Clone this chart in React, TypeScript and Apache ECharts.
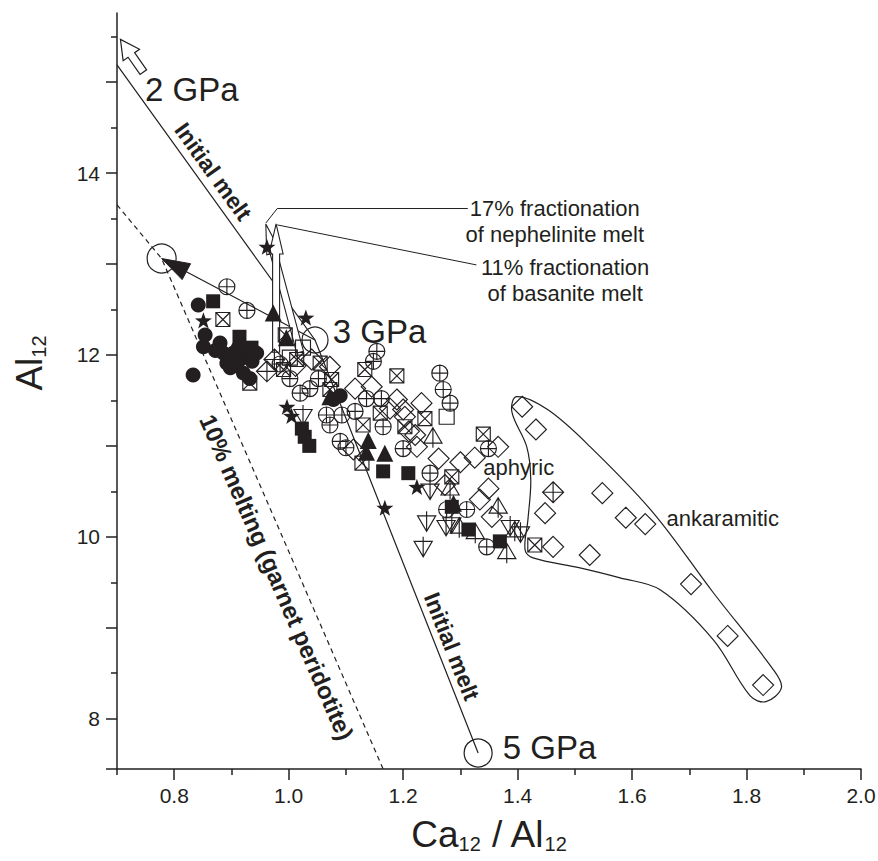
import React, { useEffect, useRef } from 'react';
import * as echarts from 'echarts';

type P = [number, number];

const FONT = '"Liberation Sans", Arial, Helvetica, sans-serif';
const INK = '#231f20';

// Axis ranges, ticks and labels
const X_MIN = 0.7;
const X_MAX = 2.0;
const Y_MIN = 7.447;
const Y_MAX = 15.76;
const xMajorTicks = [0.8, 1.0, 1.2, 1.4, 1.6, 1.8, 2.0];
const xMinorTicks = [0.7, 0.9, 1.1, 1.3, 1.5, 1.7, 1.9];
const yMajorTicks = [8, 9, 10, 11, 12, 13, 14, 15];
const yMinorTicks = [8.5, 9.5, 10.5, 11.5, 12.5, 13.5, 14.5, 15.5];
const yTickLabels = [8, 10, 12, 14];

// Sample groups: [Ca12/Al12, Al12]
const filledCircles: P[] = [
  [0.842, 12.55], [0.854, 12.22], [0.851, 12.09], [0.833, 11.78], [0.88, 12.13],
  [0.886, 12.02], [0.892, 11.91], [0.903, 12.02], [0.915, 11.95], [0.927, 12.05],
  [0.921, 11.8], [0.932, 11.74], [0.898, 11.86], [0.912, 12.08], [0.908, 11.88],
  [0.936, 11.93], [0.944, 12.02], [0.872, 12.05], [1.078, 11.51], [1.09, 11.55],
];
const filledSquares: P[] = [
  [0.868, 12.59], [0.914, 12.2], [0.935, 12.08], [1.023, 11.19], [1.028, 11.1],
  [1.036, 11.0], [1.165, 10.72], [1.209, 10.7], [1.285, 10.33], [1.314, 10.08],
  [1.369, 9.95],
];
const filledStars: P[] = [
  [0.962, 13.19], [0.851, 12.38], [1.03, 12.41], [0.997, 11.43], [1.005, 11.33],
  [1.224, 10.55], [1.168, 10.32],
];
const filledTriangles: P[] = [
  [0.973, 12.46], [0.996, 12.19], [1.072, 11.54], [1.139, 11.06], [1.136, 10.93],
  [1.168, 10.92], [1.288, 10.37],
];
const circleCross: P[] = [
  [0.892, 12.75], [0.927, 12.49], [0.985, 11.9], [1.002, 11.74], [1.02, 11.58],
  [1.037, 11.63], [1.052, 11.74], [1.066, 11.34], [1.093, 11.34], [1.116, 11.38],
  [1.072, 11.23], [1.09, 11.05], [1.1, 10.98], [1.136, 11.52], [1.162, 11.52],
  [1.154, 12.04], [1.148, 11.93], [1.264, 11.8], [1.27, 11.62], [1.282, 11.47],
  [1.165, 11.21], [1.2, 10.97], [1.247, 10.7], [1.349, 10.97], [1.276, 10.3],
  [1.311, 10.3], [1.346, 9.89],
];
const squareCross: P[] = [
  [0.885, 12.39], [0.932, 11.69], [0.994, 12.22], [0.991, 11.84], [1.014, 11.95],
  [1.055, 11.91], [1.075, 11.73], [1.072, 11.62], [1.133, 11.84], [1.189, 11.77],
  [1.16, 11.36], [1.238, 11.3], [1.203, 11.21], [1.13, 11.23], [1.128, 10.81],
  [1.34, 11.13], [1.285, 10.66], [1.43, 9.91],
];
const openSquares: P[] = [[1.002, 11.97], [1.025, 12.08], [1.276, 11.32]];
const openDiamonds: P[] = [
  [1.012, 11.88], [1.04, 11.95], [1.072, 11.87], [1.116, 11.63], [1.145, 11.65],
  [1.189, 11.51], [1.232, 11.47], [1.177, 11.41], [1.2, 11.4], [1.203, 11.32],
  [1.221, 11.12], [1.21, 11.16], [1.113, 10.96], [1.224, 10.99], [1.262, 10.86],
  [1.3, 10.82], [1.325, 10.87], [1.366, 10.99], [1.273, 10.57], [1.334, 10.41],
  [1.349, 10.53], [1.355, 10.22],
  [1.408, 11.43], [1.432, 11.18], [1.448, 10.26], [1.548, 10.48], [1.589, 10.21],
  [1.623, 10.14], [1.462, 9.89], [1.526, 9.8], [1.703, 9.48], [1.767, 8.91],
  [1.829, 8.37],
];
const diamondCross: P[] = [[0.962, 11.82], [0.975, 11.95], [1.462, 10.49]];
const triangleUpBar: P[] = [
  [1.252, 11.09], [1.282, 10.52], [1.366, 10.32], [1.326, 10.04], [1.381, 9.82],
  [1.395, 10.06], [1.298, 10.1],
];
const triangleDownBar: P[] = [
  [1.025, 11.34], [1.247, 10.52], [1.241, 10.17], [1.285, 10.15], [1.235, 9.89],
  [1.275, 10.12], [1.387, 10.12], [1.405, 10.05],
];

// Melt trends and reference points
const initialMeltTrend: P[] = [[0.7, 15.19], [1.046, 12.165], [1.331, 7.623]];
const meltingTrend: P[] = [[0.7, 13.65], [0.778, 13.06], [1.165, 7.447]];
const gpa3: P = [1.046, 12.165];
const gpa5: P = [1.331, 7.623];
const meltOrigin: P = [0.778, 13.06];
const gpa2ArrowTail: P = [0.746, 15.11];
const gpa2ArrowTip: P = [0.706, 15.47];
const nephArrowTail: P = [1.02, 12.03];
const nephArrowTip: P = [0.96, 13.44];
const basArrowTail: P = [0.978, 12.03];
const basArrowTip: P = [0.978, 13.44];
const nephLeader: P[] = [[0.96, 13.45], [0.98, 13.61], [1.313, 13.61]];
const basLeader: P[] = [[0.98, 13.43], [1.328, 12.99]];
const ankaramiticOutline: P[] = [
  [1.398, 11.542], [1.453, 11.396], [1.527, 10.989], [1.637, 10.264], [1.742, 9.385],
  [1.847, 8.538], [1.861, 8.341], [1.834, 8.187], [1.806, 8.253], [1.742, 8.868],
  [1.649, 9.418], [1.579, 9.549], [1.509, 9.659], [1.427, 9.769], [1.413, 9.857],
  [1.418, 10.187], [1.423, 10.626], [1.416, 10.989], [1.39, 11.374],
];

function starPath(): string {
  const pts: string[] = [];
  for (let i = 0; i < 10; i++) {
    const r = i % 2 === 0 ? 10 : 4;
    const a = -Math.PI / 2 + (i * Math.PI) / 5;
    pts.push(`${(10 + r * Math.cos(a)).toFixed(2)},${(10 + r * Math.sin(a)).toFixed(2)}`);
  }
  return 'path://M' + pts.join(' L') + ' Z';
}

const SYM_STAR = starPath();
const SYM_CIRCLE_CROSS = 'path://M10,0 A10,10 0 1,1 10,20 A10,10 0 1,1 10,0 Z M0,10 L20,10 M10,0 L10,20';
const SYM_SQUARE_CROSS = 'path://M0,0 L20,0 L20,20 L0,20 Z M0,0 L20,20 M20,0 L0,20';
const SYM_DIAMOND_CROSS = 'path://M10,0 L20,10 L10,20 L0,10 Z M0,10 L20,10 M10,0 L10,20';
const SYM_TRI_UP_BAR = 'path://M10,0 L20,17 L0,17 Z M10,0 L10,22';
const SYM_TRI_DOWN_BAR = 'path://M0,5 L20,5 L10,22 Z M10,0 L10,22';

function scatter(name: string, data: P[], symbol: string, size: number | number[], filled: boolean, z = 3) {
  return {
    type: 'scatter',
    name,
    data,
    symbol,
    symbolSize: size,
    symbolKeepAspect: true,
    xAxisIndex: 0,
    yAxisIndex: 0,
    z,
    silent: true,
    itemStyle: filled
      ? { color: INK, borderWidth: 0, opacity: 1 }
      : { color: 'rgba(255,255,255,0)', borderColor: INK, borderWidth: 1.15, opacity: 1 },
  };
}

function arrowOutline(tail: number[], tip: number[], headLen: number, headW: number, shaftW: number) {
  const dx = tip[0] - tail[0];
  const dy = tip[1] - tail[1];
  const L = Math.hypot(dx, dy) || 1;
  const ux = dx / L;
  const uy = dy / L;
  const nx = -uy;
  const ny = ux;
  const bx = tip[0] - ux * headLen;
  const by = tip[1] - uy * headLen;
  const hs = shaftW / 2;
  const hh = headW / 2;
  return [
    [tail[0] + nx * hs, tail[1] + ny * hs],
    [bx + nx * hs, by + ny * hs],
    [bx + nx * hh, by + ny * hh],
    [tip[0], tip[1]],
    [bx - nx * hh, by - ny * hh],
    [bx - nx * hs, by - ny * hs],
    [tail[0] - nx * hs, tail[1] - ny * hs],
  ];
}

function renderAnnotations(_params: any, api: any) {
  const c = (p: number[]) => api.coord(p) as number[];
  const stroke = { stroke: INK, lineWidth: 1.2, fill: 'none' };
  const poly = (pts: number[][], extra: any = {}) => ({
    type: 'polyline',
    shape: { points: pts.map(c) },
    style: { ...stroke, ...extra },
  });
  const ring = (p: number[], r: number) => {
    const [cx, cy] = c(p);
    return { type: 'circle', shape: { cx, cy, r }, style: { ...stroke } };
  };
  const angle = (a: number[], b: number[]) => {
    const pa = c(a);
    const pb = c(b);
    return -Math.atan2(pb[1] - pa[1], pb[0] - pa[0]);
  };
  const label = (p: number[], text: string, size: number, opts: any = {}) => {
    const [x, y] = c(p);
    return {
      type: 'text',
      x,
      y,
      rotation: opts.rotation || 0,
      style: {
        text,
        fill: INK,
        fontSize: size,
        fontFamily: FONT,
        fontWeight: opts.bold ? 'bold' : 'normal',
        align: opts.align || 'center',
        verticalAlign: 'middle',
      },
    };
  };

  // arrow from 3 GPa back to the melting origin, filled head at the origin
  const from = c(gpa3);
  const to = c(meltOrigin);
  const dx = to[0] - from[0];
  const dy = to[1] - from[1];
  const L = Math.hypot(dx, dy);
  const ux = dx / L;
  const uy = dy / L;
  const headBase = [to[0] - ux * 28, to[1] - uy * 28];
  const head = [
    [to[0], to[1]],
    [headBase[0] - uy * 9, headBase[1] + ux * 9],
    [headBase[0] + uy * 9, headBase[1] - ux * 9],
  ];

  const origin = c([X_MIN, Y_MIN]);

  const children: any[] = [
    // x-axis stub left of the y axis
    { type: 'line', shape: { x1: origin[0] - 11, y1: origin[1], x2: origin[0], y2: origin[1] }, style: { stroke: INK, lineWidth: 1.5 } },
    poly(meltingTrend, { lineDash: [5, 4] }),
    poly(initialMeltTrend),
    { type: 'polyline', shape: { points: [from, headBase] }, style: { ...stroke } },
    { type: 'polygon', shape: { points: head }, style: { fill: INK, stroke: INK, lineWidth: 1 } },
    ring(meltOrigin, 14.5),
    ring(gpa3, 13),
    ring(gpa5, 14),
    {
      type: 'polygon',
      shape: { points: arrowOutline(c(gpa2ArrowTail), c(gpa2ArrowTip), 19, 20, 8) },
      style: { fill: '#fff', stroke: INK, lineWidth: 1.2 },
    },
    {
      type: 'polygon',
      shape: { points: arrowOutline(c(nephArrowTail), c(nephArrowTip), 30, 14, 7) },
      style: { fill: '#fff', stroke: INK, lineWidth: 1.1 },
    },
    {
      type: 'polygon',
      shape: { points: arrowOutline(c(basArrowTail), c(basArrowTip), 30, 14, 7) },
      style: { fill: '#fff', stroke: INK, lineWidth: 1.1 },
    },
    poly(nephLeader, { lineWidth: 1 }),
    poly(basLeader, { lineWidth: 1 }),
    {
      type: 'polygon',
      shape: { points: ankaramiticOutline.map(c), smooth: 0.35 },
      style: { ...stroke },
    },
    label([0.749, 14.92], '2 GPa', 33, { align: 'left' }),
    label([1.077, 12.258], '3 GPa', 33, { align: 'left' }),
    label([1.374, 7.681], '5 GPa', 33, { align: 'left' }),
    label([0.868, 14.016], 'Initial melt', 23, { bold: true, rotation: angle(initialMeltTrend[0], initialMeltTrend[1]) }),
    label([1.285, 8.795], 'Initial melt', 23, { bold: true, rotation: angle(initialMeltTrend[1], initialMeltTrend[2]) }),
    label([0.979, 9.555], '10% melting (garnet peridotite)', 24, { bold: true, rotation: angle(meltingTrend[1], meltingTrend[2]) }),
    label([1.465, 13.615], '17% fractionation', 22),
    label([1.465, 13.319], 'of nephelinite melt', 22),
    label([1.483, 12.967], '11% fractionation', 22),
    label([1.483, 12.681], 'of basanite melt', 22),
    label([1.34, 10.758], 'aphyric', 22, { align: 'left' }),
    label([1.66, 10.205], 'ankaramitic', 22, { align: 'left' }),
  ];
  return { type: 'group', children };
}

function buildOption(): any {
  const tickLine = { color: INK, width: 1.5 };
  const labelStyle = { fontSize: 21, color: INK, fontFamily: FONT };
  const nameRich = {
    t: { fontSize: 37, fontFamily: FONT, color: INK, lineHeight: 40 },
    s: { fontSize: 20, fontFamily: FONT, color: INK, verticalAlign: 'bottom' },
  };
  return {
    animation: false,
    backgroundColor: '#fff',
    grid: { left: 117, right: 17, top: 13, bottom: 92, containLabel: false, outerBoundsMode: 'none' },
    xAxis: [
      {
        type: 'value',
        position: 'bottom',
        min: X_MIN,
        max: X_MAX,
        axisLine: { show: true, onZero: false, lineStyle: tickLine },
        axisTick: { show: true, inside: false, length: 11, customValues: xMajorTicks, lineStyle: tickLine },
        axisLabel: { ...labelStyle, customValues: xMajorTicks, margin: 16, formatter: (v: number) => v.toFixed(1) },
        splitLine: { show: false },
        name: '{t|Ca}{s|12}{t| / Al}{s|12}',
        nameLocation: 'middle',
        nameGap: 45,
        nameTextStyle: { rich: nameRich },
      },
      {
        type: 'value',
        position: 'bottom',
        min: X_MIN,
        max: X_MAX,
        axisLine: { show: false, onZero: false },
        axisTick: { show: true, inside: false, length: 6, customValues: xMinorTicks, lineStyle: tickLine },
        axisLabel: { show: false },
        splitLine: { show: false },
      },
    ],
    yAxis: [
      {
        type: 'value',
        position: 'left',
        min: Y_MIN,
        max: Y_MAX,
        axisLine: { show: true, onZero: false, lineStyle: tickLine },
        axisTick: { show: true, inside: false, length: 11, customValues: yMajorTicks, lineStyle: tickLine },
        axisLabel: { ...labelStyle, customValues: yTickLabels, margin: 17, formatter: (v: number) => String(v) },
        splitLine: { show: false },
        name: '{t|Al}{s|12}',
        nameLocation: 'middle',
        nameRotate: 90,
        nameGap: 68,
        nameTextStyle: { rich: nameRich, padding: [0, 0, 0, 56] },
      },
      {
        type: 'value',
        position: 'left',
        min: Y_MIN,
        max: Y_MAX,
        axisLine: { show: false, onZero: false },
        axisTick: { show: true, inside: false, length: 6, customValues: yMinorTicks, lineStyle: tickLine },
        axisLabel: { show: false },
        splitLine: { show: false },
      },
    ],
    series: [
      {
        type: 'custom',
        name: 'annotations',
        coordinateSystem: 'cartesian2d',
        xAxisIndex: 0,
        yAxisIndex: 0,
        clip: false,
        silent: true,
        z: 1,
        data: [[1, 10]],
        renderItem: renderAnnotations,
      },
      scatter('diamond', openDiamonds, 'diamond', 21, false),
      scatter('diamond cross', diamondCross, SYM_DIAMOND_CROSS, 21, false),
      scatter('circle cross', circleCross, SYM_CIRCLE_CROSS, 16, false),
      scatter('square cross', squareCross, SYM_SQUARE_CROSS, 14, false),
      scatter('square', openSquares, 'rect', 15, false),
      scatter('triangle bar', triangleUpBar, SYM_TRI_UP_BAR, 20, false),
      scatter('inverted triangle bar', triangleDownBar, SYM_TRI_DOWN_BAR, 20, false),
      scatter('filled circle', filledCircles, 'circle', 15, true, 4),
      scatter('filled square', filledSquares, 'rect', 14, true, 4),
      scatter('filled triangle', filledTriangles, 'triangle', 17, true, 4),
      scatter('filled star', filledStars, SYM_STAR, 17, true, 4),
    ],
  };
}

export default function App() {
  const ref = useRef<HTMLDivElement>(null);
  useEffect(() => {
    if (!ref.current) return;
    const chart = echarts.init(ref.current, undefined, { renderer: 'svg' });
    chart.setOption(buildOption());
    return () => chart.dispose();
  }, []);
  return (
    <div
      ref={ref}
      style={{ position: 'absolute', left: 0, top: 0, width: 878, height: 861, background: '#fff' }}
    />
  );
}
